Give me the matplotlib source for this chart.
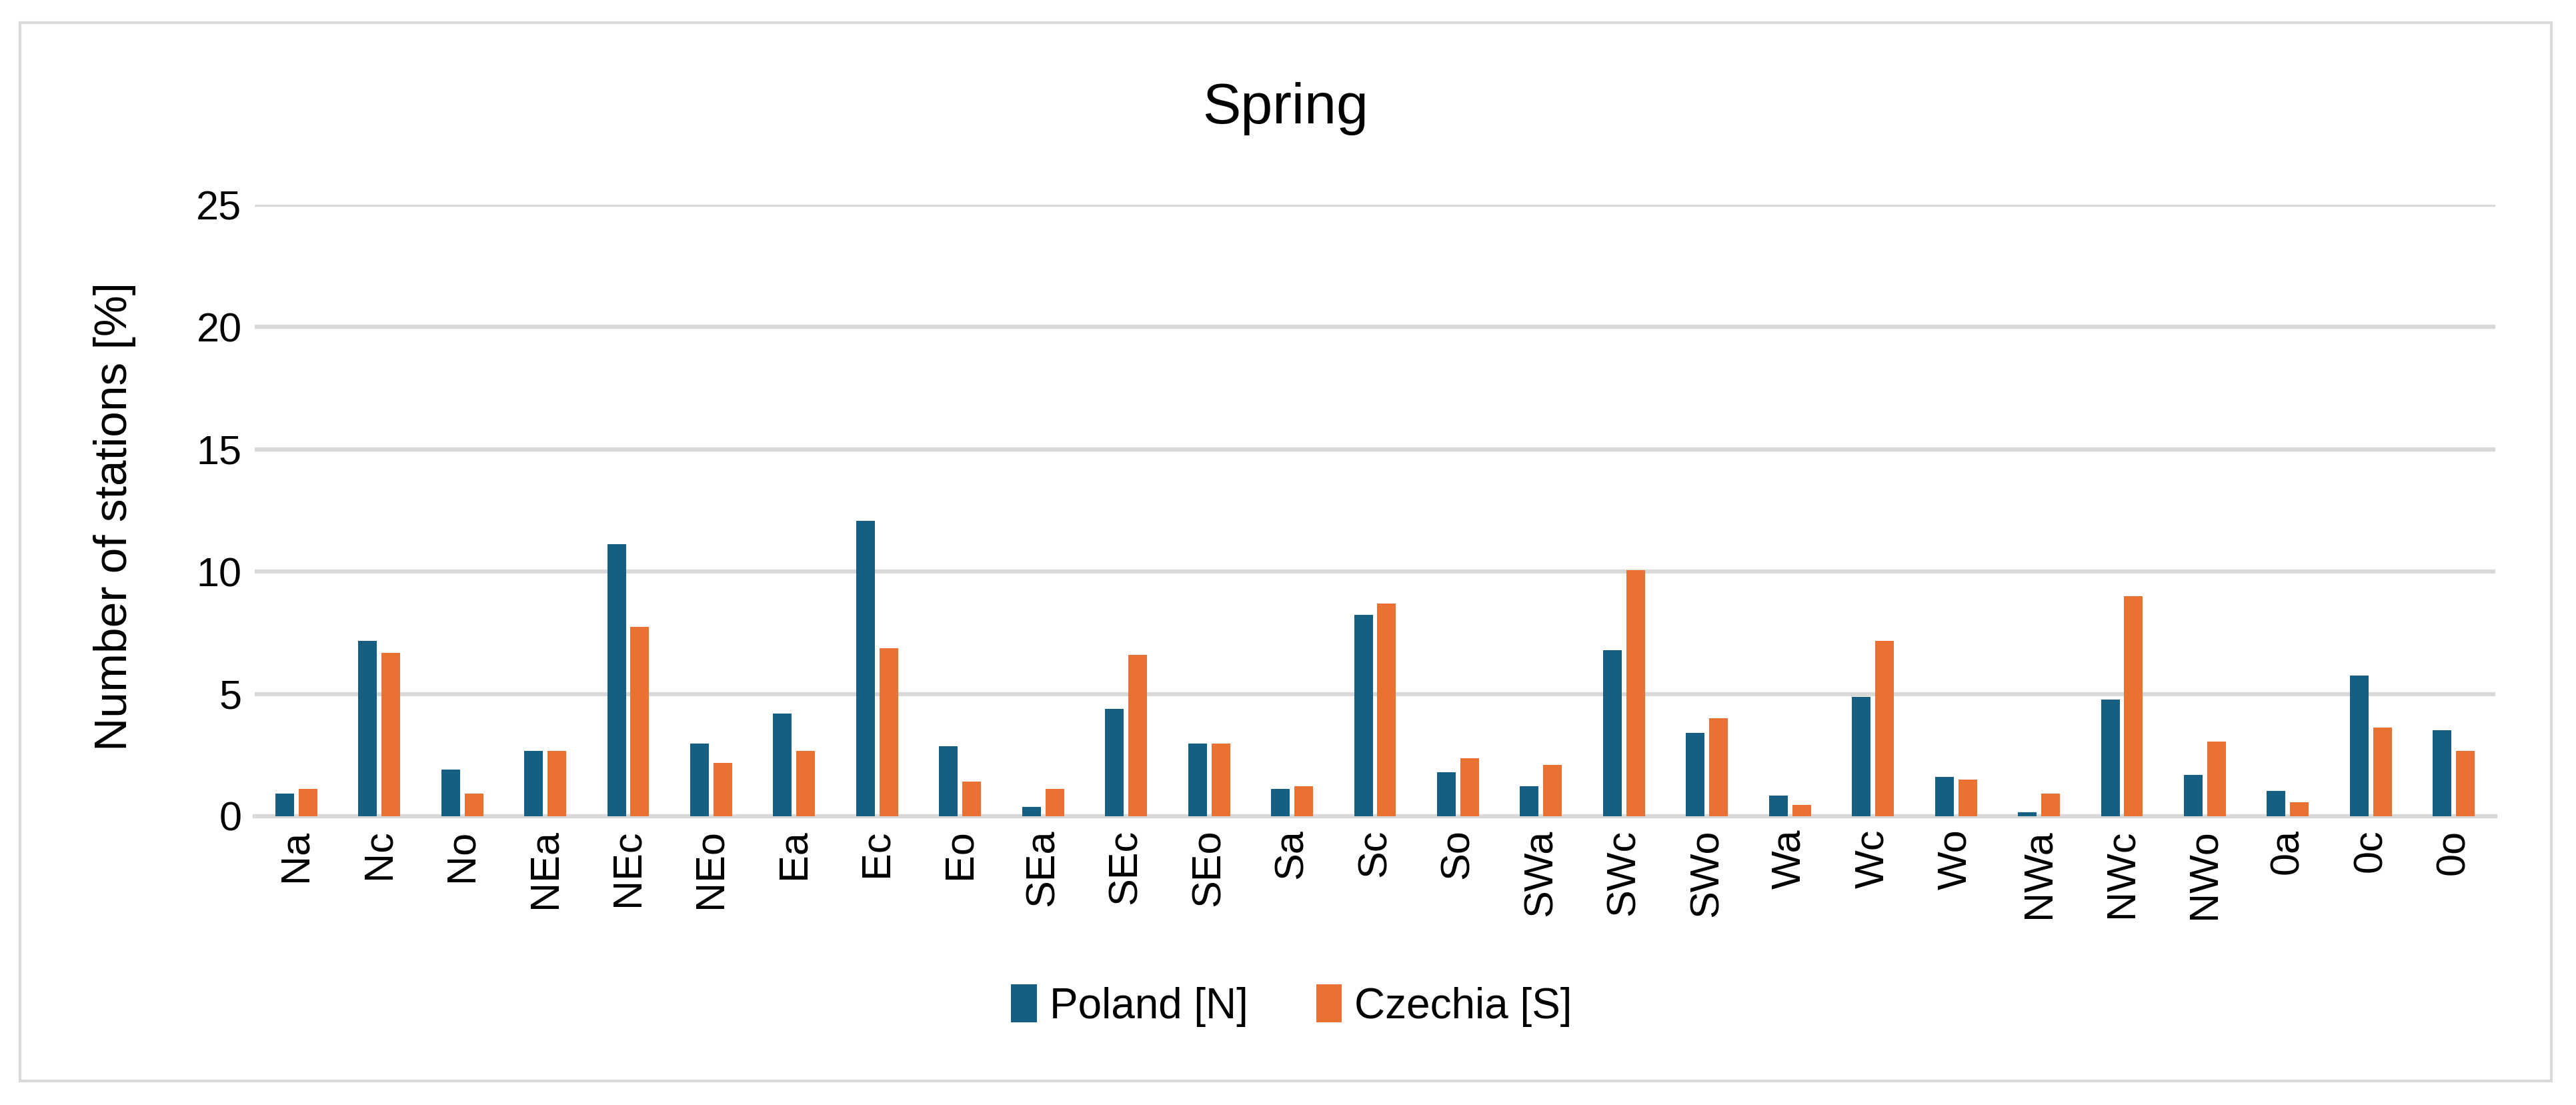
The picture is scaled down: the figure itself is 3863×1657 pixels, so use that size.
import numpy as np
import matplotlib
matplotlib.use("Agg")
import matplotlib.pyplot as plt
from matplotlib.patches import Rectangle

plt.rcParams['font.family'] = ['Liberation Sans', 'DejaVu Sans']

types = ['Na', 'Nc', 'No', 'NEa', 'NEc', 'NEo', 'Ea', 'Ec', 'Eo',
         'SEa', 'SEc', 'SEo', 'Sa', 'Sc', 'So', 'SWa', 'SWc', 'SWo',
         'Wa', 'Wc', 'Wo', 'NWa', 'NWc', 'NWo', '0a', '0c', '0o']
poland = [0.94, 7.18, 1.90, 2.66, 11.11, 2.96, 4.19, 12.07, 2.87,
          0.38, 4.38, 2.96, 1.13, 8.24, 1.81, 1.23, 6.80, 3.42,
          0.85, 4.87, 1.62, 0.17, 4.78, 1.70, 1.04, 5.74, 3.51]
czechia = [1.13, 6.69, 0.94, 2.66, 7.75, 2.19, 2.66, 6.88, 1.43,
           1.13, 6.59, 2.96, 1.23, 8.71, 2.38, 2.09, 10.05, 4.00,
           0.47, 7.18, 1.51, 0.94, 8.99, 3.04, 0.56, 3.62, 2.66]

W, H = 3863, 1657
fig = plt.figure(figsize=(W / 100, H / 100), dpi=100)
ax = fig.add_axes([382 / W, 1 - 1224 / H, (3742 - 382) / W, (1224 - 307) / H])

x = np.arange(len(types))
w = 0.225
ax.bar(x - 0.14, poland, w, color='#156082', label='Poland [N]', zorder=3)
ax.bar(x + 0.14, czechia, w, color='#E97132', label='Czechia [S]', zorder=3)

ax.set_xlim(-0.5, len(types) - 0.5)
ax.set_ylim(0, 25)
ax.set_yticks([0, 5, 10, 15, 20, 25])
ax.set_xticks(x)
ax.set_xticklabels(types, rotation=90)
ax.tick_params(axis='both', length=0, labelsize=44, colors='#000000')
ax.tick_params(axis='y', pad=14)
ax.tick_params(axis='x', pad=14)
ax.yaxis.grid(True, color='#D9D9D9', linewidth=4.5, zorder=0)
for s in ['top', 'right', 'left']:
    ax.spines[s].set_visible(False)
ax.spines['bottom'].set_color('#D9D9D9')
ax.spines['bottom'].set_linewidth(4.5)

fig.text(172 / W, 1 - 775 / H, 'Number of stations [%]', rotation=90,
         ha='center', va='center', fontsize=50)
fig.text(0.5 * (30 + 3826) / W, 1 - 163 / H, 'Spring', ha='center',
         va='center', fontsize=62)

fig.legend(loc='center', bbox_to_anchor=(1937 / W, 1 - 1508 / H), ncol=2,
           frameon=False, fontsize=46, handlelength=0.6, handleheight=1.0,
           handletextpad=0.3, columnspacing=1.6)

fig.patches.append(Rectangle((30 / W, 1 - 1621 / H), (3826 - 30) / W,
                             (1621 - 34) / H, transform=fig.transFigure,
                             fill=False, edgecolor='#D9D9D9', linewidth=3))

fig.savefig('out.png', dpi=100, facecolor='white')
